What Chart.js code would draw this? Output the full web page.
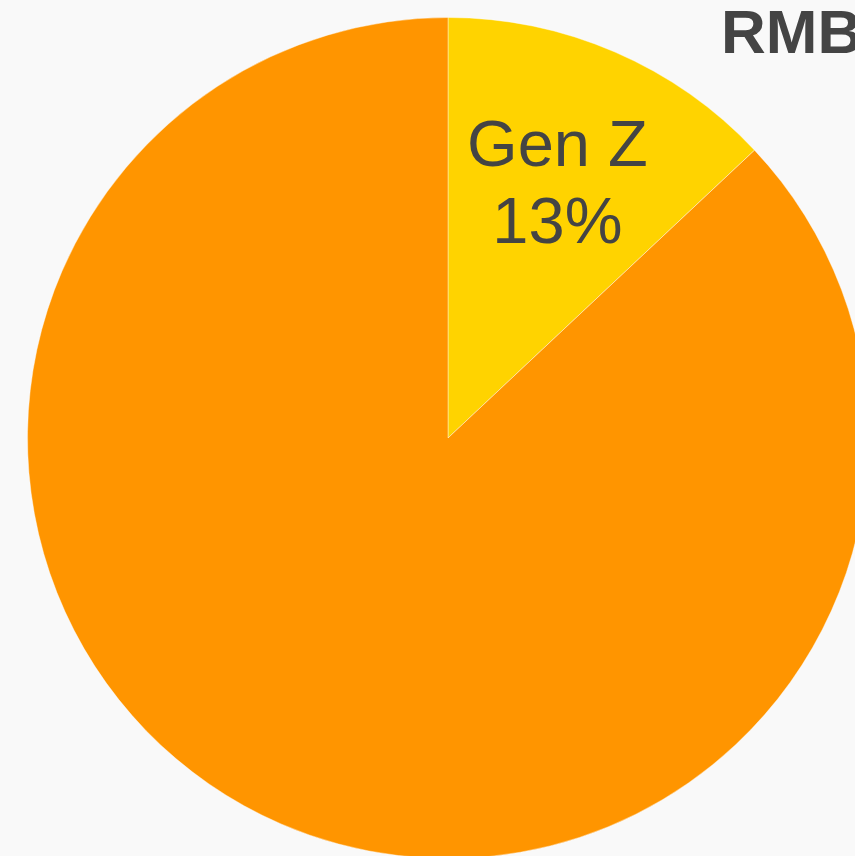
<!DOCTYPE html>
<html>
<head>
<meta charset="utf-8">
<script src="https://cdn.jsdelivr.net/npm/chart.js@4"></script>
<style>
html,body{margin:0;padding:0;width:855px;height:856px;overflow:hidden;background:#f9f9f9;}
#wrap{position:absolute;left:27px;top:17px;width:842px;height:842px;}
#title{position:absolute;left:721px;top:-4px;font:bold 62px "Liberation Sans",Arial,sans-serif;color:#444;white-space:nowrap;}
</style>
</head>
<body>
<div id="wrap"><canvas id="pieChart"></canvas></div>
<div id="title">RMB</div>
<script>
// data
const labels = ["Gen Z", "Others"];
const shares = [13, 87];
const colors = ["#ffd300", "#ff9500"];
const showLabel = [true, false];

// draws the name + percent inside the slice
const sliceLabels = {
  id: "sliceLabels",
  afterDatasetsDraw(chart){
    const ctx = chart.ctx;
    const meta = chart.getDatasetMeta(0);
    meta.data.forEach((arc, i) => {
      if(!showLabel[i]) return;
      const mid = (arc.startAngle + arc.endAngle) / 2;
      const r = arc.outerRadius * 0.655;
      const x = arc.x + Math.cos(mid) * r;
      const y = arc.y + Math.sin(mid) * r;
      ctx.save();
      ctx.fillStyle = "#444";
      ctx.font = '65px "Liberation Sans", Arial, sans-serif';
      ctx.textAlign = "center";
      ctx.textBaseline = "middle";
      ctx.fillText(labels[i], x, y - 37);
      ctx.fillText(shares[i] + "%", x, y + 40);
      ctx.restore();
    });
  }
};

new Chart(document.getElementById("pieChart"), {
  type: "pie",
  data: {
    labels: labels,
    datasets: [{
      data: shares,
      backgroundColor: colors,
      borderColor: "rgba(255,255,255,0.4)",
      borderWidth: 1
    }]
  },
  options: {
    responsive: true,
    maintainAspectRatio: false,
    animation: false,
    layout: { padding: 0 },
    plugins: {
      legend: { display: false },
      tooltip: { enabled: false }
    }
  },
  plugins: [sliceLabels]
});
</script>
</body>
</html>
